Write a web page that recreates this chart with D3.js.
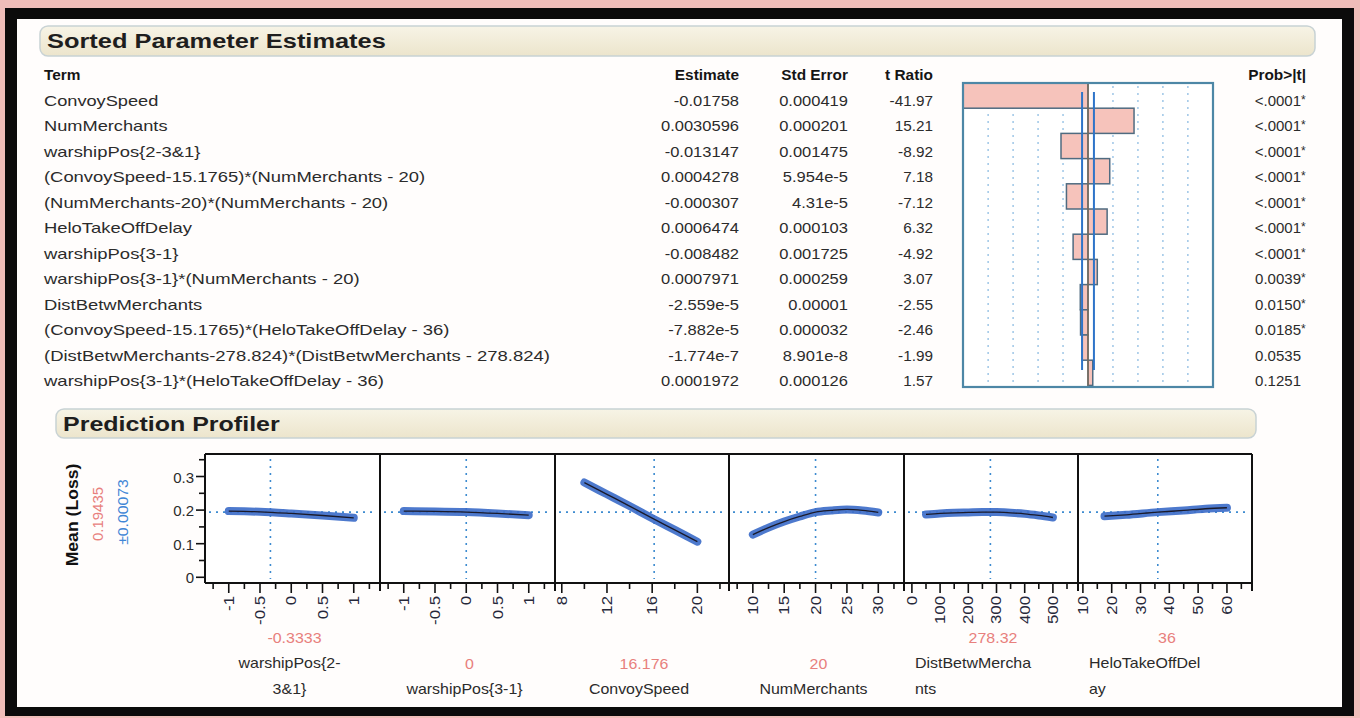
<!DOCTYPE html>
<html>
<head>
<meta charset="utf-8">
<script src="https://cdn.jsdelivr.net/npm/d3@7"></script>
<style>
  html, body { margin: 0; padding: 0; background: #efbdb9; }
  svg { display: block; font-family: "Liberation Sans", Arial, sans-serif; }
</style>
</head>
<body>
<svg id="chart" width="1360" height="718"></svg>
<script>
// ---------- Sorted Parameter Estimates ----------
const terms = [
  "ConvoySpeed",
  "NumMerchants",
  "warshipPos{2-3&1}",
  "(ConvoySpeed-15.1765)*(NumMerchants - 20)",
  "(NumMerchants-20)*(NumMerchants - 20)",
  "HeloTakeOffDelay",
  "warshipPos{3-1}",
  "warshipPos{3-1}*(NumMerchants - 20)",
  "DistBetwMerchants",
  "(ConvoySpeed-15.1765)*(HeloTakeOffDelay - 36)",
  "(DistBetwMerchants-278.824)*(DistBetwMerchants - 278.824)",
  "warshipPos{3-1}*(HeloTakeOffDelay - 36)"
];
const estimates = ["-0.01758", "0.0030596", "-0.013147", "0.0004278", "-0.000307", "0.0006474",
                   "-0.008482", "0.0007971", "-2.559e-5", "-7.882e-5", "-1.774e-7", "0.0001972"];
const stdErrors = ["0.000419", "0.000201", "0.001475", "5.954e-5", "4.31e-5", "0.000103",
                   "0.001725", "0.000259", "0.00001", "0.000032", "8.901e-8", "0.000126"];
const tRatios = [-41.97, 15.21, -8.92, 7.18, -7.12, 6.32, -4.92, 3.07, -2.55, -2.46, -1.99, 1.57];
const probs = ["<.0001", "<.0001", "<.0001", "<.0001", "<.0001", "<.0001",
               "<.0001", "0.0039", "0.0150", "0.0185", "0.0535", "0.1251"];
const significant = [true, true, true, true, true, true, true, true, true, true, false, false];
const tRefLines = [-33, -24.75, -16.5, -8.25, 8.25, 16.5, 24.75, 33];
const tCritical = 1.96;

// ---------- Prediction Profiler ----------
const factorNames = [["warshipPos{2-", "3&1}"], ["warshipPos{3-1}"], ["ConvoySpeed"],
                     ["NumMerchants"], ["DistBetwMercha", "nts"], ["HeloTakeOffDel", "ay"]];
const currentValues = [-0.3333, 0, 16.176, 20, 278.32, 36];
const currentLabels = ["-0.3333", "0", "16.176", "20", "278.32", "36"];
const xTickLabels = [
  [-1, -0.5, 0, 0.5, 1],
  [-1, -0.5, 0, 0.5, 1],
  [8, 12, 16, 20],
  [10, 15, 20, 25, 30],
  [0, 100, 200, 300, 400, 500],
  [10, 20, 30, 40, 50, 60]
];
const profileX = [
  [-1, -0.5, 0, 0.5, 1],
  [-1, -0.5, 0, 0.5, 1],
  [10, 12, 14, 16, 18, 20],
  [10, 12.5, 15, 17.5, 20, 22.5, 25, 27.5, 30],
  [50, 100, 150, 200, 250, 300, 350, 400, 450, 500],
  [17.5, 25, 36, 45, 52.5, 60]
];
const profileY = [
  [0.197, 0.195, 0.190, 0.184, 0.177],
  [0.197, 0.196, 0.194, 0.190, 0.185],
  [0.282, 0.247, 0.212, 0.176, 0.141, 0.106],
  [0.127, 0.148, 0.166, 0.181, 0.194, 0.199, 0.202, 0.199, 0.193],
  [0.187, 0.190, 0.192, 0.193, 0.194, 0.194, 0.192, 0.189, 0.184, 0.178],
  [0.182, 0.186, 0.194, 0.199, 0.204, 0.207]
];
const meanLoss = 0.194;
const meanLossLabel = "0.19435";
const meanLossCI = "\u00B10.00073";
const yTickLabels = [0, 0.1, 0.2, 0.3];

// ---------- drawing ----------
const svg = d3.select("#chart");
const ink = "#2b2b2b";

// widen text horizontally: scale factor k plus extra spacing per character
function widen(sel, k, perChar = 0) {
  sel.each(function () {
    const w = this.getComputedTextLength();
    const n = this.textContent.length;
    if (w > 0) d3.select(this).attr("textLength", w * k + n * perChar).attr("lengthAdjust", "spacingAndGlyphs");
  });
  return sel;
}

// window frame
svg.append("rect").attr("x", 5).attr("y", 8).attr("width", 1349).attr("height", 708).attr("fill", "#0b0b0b");
svg.append("rect").attr("x", 17).attr("y", 19).attr("width", 1325).attr("height", 688).attr("fill", "#fffdfc");

// outline header gradient
const defs = svg.append("defs");
const grad = defs.append("linearGradient").attr("id", "hdr").attr("x1", 0).attr("y1", 0).attr("x2", 0).attr("y2", 1);
grad.append("stop").attr("offset", "0%").attr("stop-color", "#f7f4e6");
grad.append("stop").attr("offset", "100%").attr("stop-color", "#ece5cc");

function header(x, y, w, h, label, k) {
  svg.append("rect").attr("x", x).attr("y", y).attr("width", w).attr("height", h)
    .attr("rx", 8).attr("fill", "url(#hdr)").attr("stroke", "#c8d2d4").attr("stroke-width", 1.5);
  widen(svg.append("text").attr("x", x + 7).attr("y", y + h / 2 + 7)
    .attr("font-size", 20).attr("font-weight", "bold").attr("fill", "#1e1e1e").text(label), k);
}
header(40, 26, 1275, 30, "Sorted Parameter Estimates", 1.27);
header(56, 409, 1200, 29, "Prediction Profiler", 1.25);

// ----- table -----
const rowY = i => 106 + i * 25.45;
const colHead = [
  { t: "Term", x: 44, a: "start" },
  { t: "Estimate", x: 739, a: "end" },
  { t: "Std Error", x: 848, a: "end" },
  { t: "t Ratio", x: 933, a: "end" },
  { t: "Prob>|t|", x: 1306, a: "end" }
];
colHead.forEach(c => {
  widen(svg.append("text").attr("x", c.x).attr("y", 80).attr("text-anchor", c.a)
    .attr("font-size", 14).attr("font-weight", "bold").attr("fill", "#151515").text(c.t), 1.1);
});

const tbl = svg.append("g").attr("font-size", 15).attr("fill", ink);
terms.forEach((t, i) => {
  widen(tbl.append("text").attr("x", 44).attr("y", rowY(i)).text(t), 1.12, 0.8);
  widen(tbl.append("text").attr("x", 739).attr("y", rowY(i)).attr("text-anchor", "end").text(estimates[i]), 1.1);
  widen(tbl.append("text").attr("x", 848).attr("y", rowY(i)).attr("text-anchor", "end").text(stdErrors[i]), 1.1);
  widen(tbl.append("text").attr("x", 933).attr("y", rowY(i)).attr("text-anchor", "end").text(tRatios[i].toFixed(2)), 1.02);
  tbl.append("text").attr("x", 1301).attr("y", rowY(i)).attr("text-anchor", "end").text(probs[i]);
  if (significant[i]) tbl.append("text").attr("x", 1301).attr("y", rowY(i) - 2).attr("font-size", 12).text("*");
});

// ----- t ratio bar chart -----
const box = { x0: 963, x1: 1213, y0: 83, y1: 387 };
const tx = d3.scaleLinear().domain([-41.3, 41.3]).range([box.x0, box.x1]).clamp(true);
const ty = d3.scaleBand().domain(d3.range(tRatios.length)).range([box.y0, box.y0 + 25.2 * tRatios.length]).padding(0);
const tb = svg.append("g");
tb.append("rect").attr("x", box.x0).attr("y", box.y0).attr("width", box.x1 - box.x0).attr("height", box.y1 - box.y0)
  .attr("fill", "#ffffff");
tb.selectAll("line.ref").data(tRefLines).join("line").attr("class", "ref")
  .attr("x1", d => tx(d)).attr("x2", d => tx(d)).attr("y1", box.y0 + 3).attr("y2", box.y1 - 3)
  .attr("stroke", "#8fbde3").attr("stroke-width", 1.3).attr("stroke-dasharray", "2,5");
tb.selectAll("rect.bar").data(tRatios).join("rect").attr("class", "bar")
  .attr("x", d => Math.min(tx(0), tx(d))).attr("width", d => Math.abs(tx(d) - tx(0)))
  .attr("y", (d, i) => ty(i)).attr("height", ty.bandwidth())
  .attr("fill", "#f6c3bb").attr("stroke", "#4f6b80").attr("stroke-width", 1.5);
tb.append("line").attr("x1", tx(0)).attr("x2", tx(0)).attr("y1", box.y0).attr("y2", box.y1)
  .attr("stroke", "#7a6a5a").attr("stroke-width", 1.5);
[-tCritical, tCritical].forEach(v => {
  tb.append("line").attr("x1", tx(v)).attr("x2", tx(v)).attr("y1", 92).attr("y2", 370)
    .attr("stroke", "#2e74c9").attr("stroke-width", 2);
});
tb.append("rect").attr("x", box.x0).attr("y", box.y0).attr("width", box.x1 - box.x0).attr("height", box.y1 - box.y0)
  .attr("fill", "none").attr("stroke", "#4d87a6").attr("stroke-width", 2.2);

// ----- profiler -----
const panelEdges = [205, 380, 555, 729, 904, 1078, 1252];
const xDomains = [[-1.38, 1.42], [-1.38, 1.42], [7.4, 22.8], [6.2, 34.1], [-28, 589], [8.3, 68.7]];
const minorStep = [0.25, 0.25, 2, 2.5, 50, 5];
const nameAlign = ["middle", "middle", "middle", "middle", "start", "start"];
const pTop = 454, pBot = 583;
const py = d3.scaleLinear().domain([-0.017, 0.367]).range([pBot, pTop]);

const prof = svg.append("g");
// y axis
const yMinor = d3.range(0, 0.36, 0.05);
prof.selectAll("line.yt").data(yMinor).join("line").attr("class", "yt")
  .attr("x1", d => panelEdges[0] - (Math.abs(d * 10 - Math.round(d * 10)) < 1e-6 ? 9 : 6))
  .attr("x2", panelEdges[0]).attr("y1", d => py(d)).attr("y2", d => py(d))
  .attr("stroke", "#111").attr("stroke-width", 1.6);
prof.selectAll("text.yl").data(yTickLabels).join("text").attr("class", "yl")
  .attr("x", 194).attr("y", d => py(d) + 6).attr("text-anchor", "end")
  .attr("font-size", 15).attr("fill", ink).text(d => d === 0 ? "0" : d3.format(".1f")(d));

// y titles
const yt = prof.append("g").attr("font-size", 15);
widen(yt.append("text").attr("transform", "translate(78,515) rotate(-90)").attr("text-anchor", "middle")
  .attr("font-size", 16).attr("font-weight", "bold").attr("fill", "#111").text("Mean (Loss)"), 1.1);
widen(yt.append("text").attr("transform", "translate(103,514) rotate(-90)").attr("text-anchor", "middle")
  .attr("fill", "#e8807d").text(meanLossLabel), 1.0);
widen(yt.append("text").attr("transform", "translate(128,512) rotate(-90)").attr("text-anchor", "middle")
  .attr("fill", "#3f86d6").text(meanLossCI), 1.05);

factorNames.forEach((name, k) => {
  const x0 = panelEdges[k], x1 = panelEdges[k + 1];
  const px = d3.scaleLinear().domain(xDomains[k]).range([x0, x1]);
  const g = prof.append("g");
  g.append("rect").attr("x", x0).attr("y", pTop).attr("width", x1 - x0).attr("height", pBot - pTop).attr("fill", "#fff");

  // crosshairs
  g.append("line").attr("x1", x0 + 4).attr("x2", x1 - 4).attr("y1", py(meanLoss)).attr("y2", py(meanLoss))
    .attr("stroke", "#3d8bd0").attr("stroke-width", 1.6).attr("stroke-dasharray", "2,5");
  g.append("line").attr("x1", px(currentValues[k])).attr("x2", px(currentValues[k]))
    .attr("y1", pTop + 5).attr("y2", pBot - 4)
    .attr("stroke", "#3d8bd0").attr("stroke-width", 1.6).attr("stroke-dasharray", "2,5");

  // profile trace
  const pts = profileX[k].map((v, i) => [px(v), py(profileY[k][i])]);
  const line = d3.line().curve(d3.curveMonotoneX);
  g.append("path").attr("d", line(pts)).attr("fill", "none").attr("stroke", "#3e6ec9")
    .attr("stroke-width", 8).attr("stroke-linecap", "round").attr("opacity", 0.92);
  g.append("path").attr("d", line(pts)).attr("fill", "none").attr("stroke", "#1a1a2a").attr("stroke-width", 1.3);

  // x ticks
  const [d0, d1] = xDomains[k];
  const st = minorStep[k];
  const minor = d3.range(Math.ceil(d0 / st) * st, d1, st);
  g.selectAll("line.xt").data(minor).join("line").attr("class", "xt")
    .attr("x1", d => px(d)).attr("x2", d => px(d)).attr("y1", pBot)
    .attr("y2", d => pBot + (xTickLabels[k].some(v => Math.abs(v - d) < 1e-9) ? 10 : 6))
    .attr("stroke", "#111").attr("stroke-width", 1.6);
  g.selectAll("text.xl").data(xTickLabels[k]).join("text").attr("class", "xl")
    .attr("transform", d => `translate(${px(d) + 5},${pBot + 13}) rotate(-90)`)
    .attr("text-anchor", "end").attr("font-size", 14).attr("fill", "#26283a").text(d => String(d))
    .call(widen, 1.2);

  // factor value + name
  const cx = (x0 + x1) / 2;
  const lines = name.length;
  const baseY = 694;
  const nx = nameAlign[k] === "start" ? x0 + 11 : cx - 3;
  name.forEach((ln, j) => {
    widen(g.append("text").attr("x", nx).attr("y", baseY - (lines - 1 - j) * 26)
      .attr("text-anchor", nameAlign[k]).attr("font-size", 14.5).attr("fill", ink).text(ln), 1.1);
  });
  widen(g.append("text").attr("x", cx + 2).attr("y", baseY - lines * 26 + 1).attr("text-anchor", "middle")
    .attr("font-size", 14.5).attr("fill", "#e8807d").text(currentLabels[k]), 1.1);
});

// panel frames
prof.append("line").attr("x1", panelEdges[0]).attr("x2", panelEdges[6]).attr("y1", pTop).attr("y2", pTop)
  .attr("stroke", "#111").attr("stroke-width", 2);
prof.append("line").attr("x1", panelEdges[0]).attr("x2", panelEdges[6]).attr("y1", pBot).attr("y2", pBot)
  .attr("stroke", "#111").attr("stroke-width", 2);
prof.selectAll("line.sep").data(panelEdges).join("line").attr("class", "sep")
  .attr("x1", d => d).attr("x2", d => d).attr("y1", pTop).attr("y2", (d, i) => i === 0 ? pBot : pBot + 8)
  .attr("stroke", "#111").attr("stroke-width", 2);
</script>
</body>
</html>
